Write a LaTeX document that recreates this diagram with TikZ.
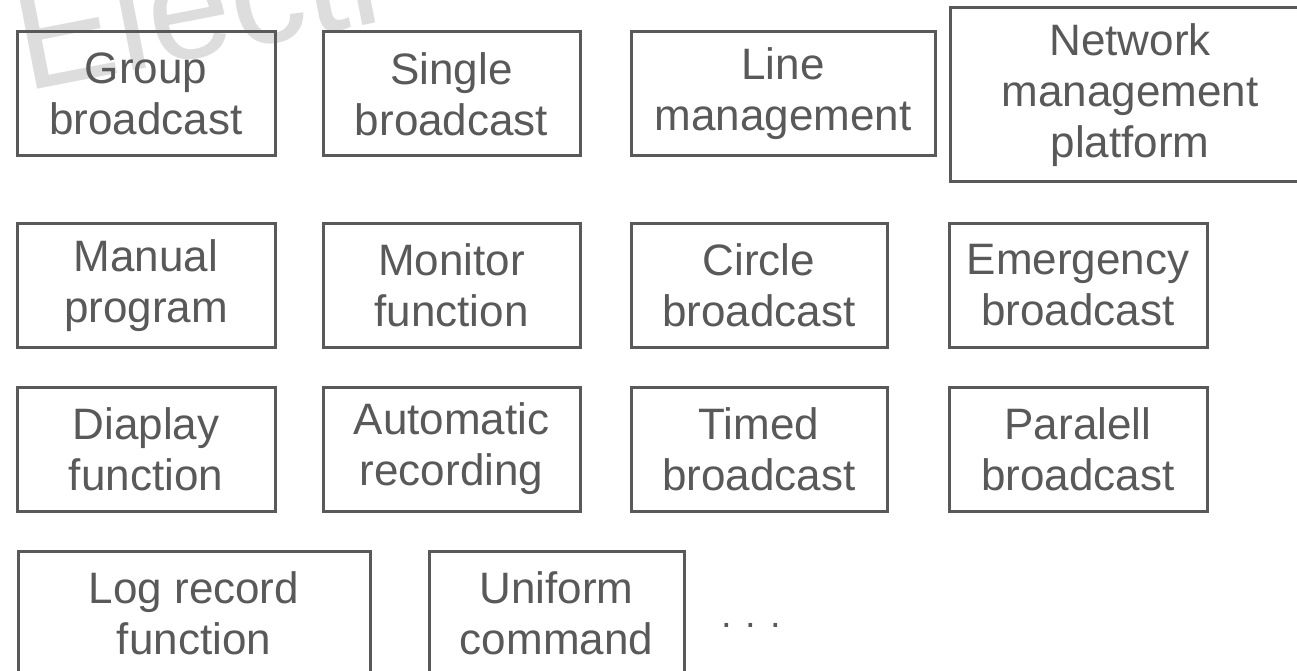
\documentclass[tikz,border=0pt]{standalone}
\usepackage{fontspec}
\setmainfont{Liberation Sans}
\definecolor{boxgray}{RGB}{89,89,89}
\definecolor{markgray}{RGB}{221,221,221}

\begin{document}
\begin{tikzpicture}[x=1pt, y=-1pt,
    box/.style={draw=boxgray, line width=3pt, text=boxgray, align=center,
        inner sep=0pt, minimum height=124pt, font=\fontsize{44}{51}\selectfont}]
    % Page
    \clip (0,0) rectangle (1297,671);
    \fill[white] (0,0) rectangle (1297,671);

    % Watermark
    \node[text=markgray, rotate=11, anchor=base west,
        font=\fontsize{150}{150}\selectfont] (mark) at (22,92) {Electr};

    % First row
    \node[box, minimum width=258pt] (group) at (146,94) {Group\\broadcast};
    \node[box, minimum width=257pt] (single) at (451.5,94) {Single\\broadcast};
    \node[box, minimum width=304pt] (line) at (783,94) {Line\\management};
    \node[box, minimum width=360pt, minimum height=174pt] (network) at (1130,95)
        {Network\\management\\platform};

    % Second row
    \node[box, minimum width=258pt] (manual) at (146,285.5) {Manual\\program};
    \node[box, minimum width=257pt] (monitor) at (451.5,285.5) {Monitor\\function};
    \node[box, minimum width=256pt] (circle) at (759,285.5) {Circle\\broadcast};
    \node[box, minimum width=258pt] (emergency) at (1078,285.5) {Emergency\\broadcast};

    % Third row
    \node[box, minimum width=258pt] (diaplay) at (146,449) {Diaplay\\function};
    \node[box, minimum width=257pt] (automatic) at (451.5,449) {Automatic\\recording};
    \node[box, minimum width=256pt] (timed) at (759,449) {Timed\\broadcast};
    \node[box, minimum width=258pt] (paralell) at (1078,449) {Paralell\\broadcast};

    % Last row
    \node[box, minimum width=352pt] (logrecord) at (194,613) {Log record\\function};
    \node[box, minimum width=255pt] (uniform) at (556.5,613) {Uniform\\command};
    \node[text=boxgray, anchor=base, font=\fontsize{38}{38}\selectfont] (more)
        at (751,627) {. . .};

\end{tikzpicture}
\end{document}
